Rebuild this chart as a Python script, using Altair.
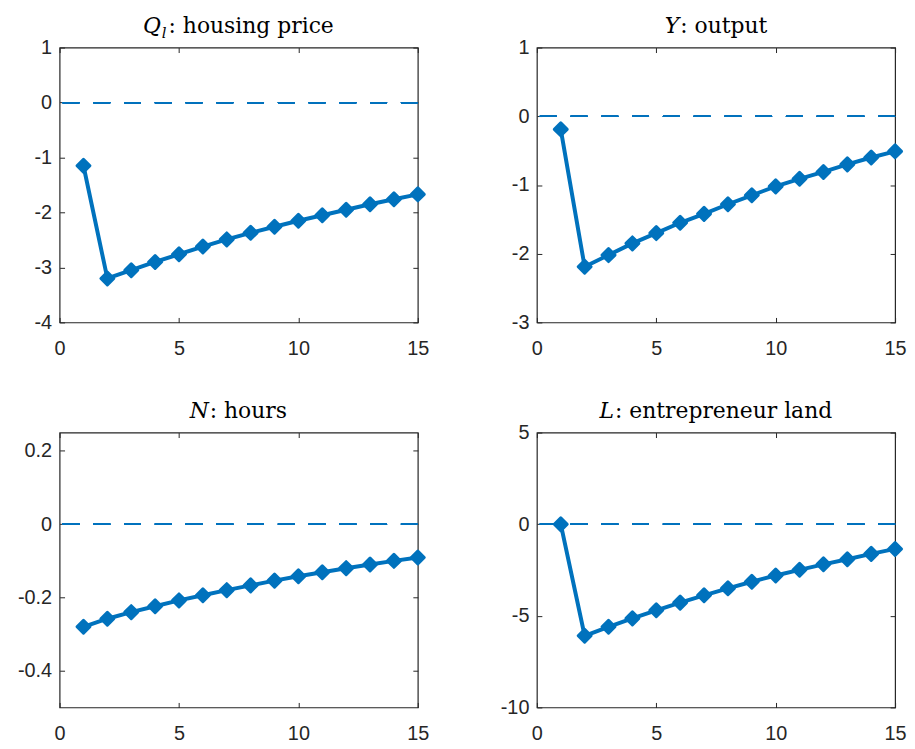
import altair as alt
import pandas as pd

# ---------------- data ----------------
periods = list(range(1, 16))
housing_price = [-1.15, -3.20, -3.05, -2.90, -2.76, -2.62, -2.49, -2.37, -2.26, -2.15, -2.05, -1.95, -1.85, -1.76, -1.67]
output = [-0.19, -2.19, -2.02, -1.85, -1.70, -1.55, -1.42, -1.28, -1.15, -1.02, -0.91, -0.81, -0.70, -0.60, -0.51]
hours = [-0.280, -0.258, -0.240, -0.224, -0.208, -0.194, -0.180, -0.167, -0.154, -0.142, -0.131, -0.120, -0.110, -0.100, -0.091]
land = [0.0, -6.09, -5.60, -5.14, -4.70, -4.28, -3.88, -3.50, -3.14, -2.80, -2.49, -2.19, -1.91, -1.62, -1.35]

x_ticks = [0, 5, 10, 15]
y_domains = [[-4, 1], [-3, 1], [-0.5, 0.25], [-10, 5]]
y_ticks = [[-4, -3, -2, -1, 0, 1], [-3, -2, -1, 0, 1], [-0.4, -0.2, 0, 0.2], [-10, -5, 0, 5]]
title_italic = ["Q", "Y", "N", "L"]
title_sub = ["l", "", "", ""]
title_rest = [": housing price", ": output", ": hours", ": entrepreneur land"]

BLUE = "#0072BD"
AX = "#262626"
W, H = 361, 277
LABEL_EXPR = "datum.value < 0 ? '-' + format(-datum.value, '') : format(datum.value, '')"

# approximate DejaVu Serif advance widths (em) used to centre composite titles
CW = {" ": 0.318, ":": 0.337, "a": 0.596, "c": 0.560, "d": 0.640, "e": 0.592, "g": 0.640,
      "h": 0.644, "i": 0.320, "l": 0.320, "n": 0.644, "o": 0.602, "p": 0.640, "r": 0.478,
      "s": 0.513, "t": 0.402, "u": 0.644}
IW = {"Q": 0.787, "Y": 0.669, "N": 0.838, "L": 0.653, "l": 0.320}


def panel(values, ydom, yt, ital, sub, rest):
    df = pd.DataFrame({"t": periods, "v": values})
    base = alt.Chart(df)
    xs = alt.Scale(domain=[0, 15], nice=False, zero=False)
    ys = alt.Scale(domain=ydom, nice=False, zero=False)
    common = dict(grid=False, domain=False, tickColor=AX, tickSize=5, tickWidth=1,
                  offset=-5, labelFlush=False, labelOverlap=False)
    line = base.mark_line(
        color=BLUE, strokeWidth=4, strokeJoin="round",
        point=alt.OverlayMarkDef(shape="diamond", filled=True, size=170, color=BLUE,
                                 stroke=BLUE, strokeWidth=3, strokeJoin="round", opacity=1),
    ).encode(
        x=alt.X("t:Q", scale=xs, title=None,
                axis=alt.Axis(orient="bottom", values=x_ticks, labelExpr=LABEL_EXPR,
                              labelFont="Liberation Sans", labelFontSize=20, labelColor=AX,
                              labelPadding=16, minExtent=25, maxExtent=25, **common)),
        y=alt.Y("v:Q", scale=ys, title=None,
                axis=alt.Axis(orient="left", values=yt, labelExpr=LABEL_EXPR,
                              labelFont="Liberation Sans", labelFontSize=20, labelColor=AX,
                              labelPadding=8, minExtent=48, maxExtent=48, **common)),
    )
    frame = base.mark_point(opacity=0).encode(
        x=alt.X("t:Q", scale=xs, title=None,
                axis=alt.Axis(orient="top", values=x_ticks, labels=False,
                              minExtent=5, maxExtent=5, **common)),
        y=alt.Y("v:Q", scale=ys, title=None,
                axis=alt.Axis(orient="right", values=yt, labels=False,
                              minExtent=5, maxExtent=5, **common)),
    )
    zero = base.mark_rule(color=BLUE, strokeWidth=1.2, strokeDash=[17, 14]).encode(
        y=alt.YDatum(0, axis=None)
    )
    one = alt.Chart(pd.DataFrame({"k": [0]}))
    font = "DejaVu Serif"
    fs = 22
    sfs = 15
    ital_w = IW[ital] * fs
    sub_w = IW[sub] * sfs + 2 if sub else 0
    rest_w = sum(CW.get(c, 0.6) for c in rest) * fs
    total = ital_w + sub_w + 1 + rest_w
    start = (W - total) / 2
    ital_end = start + ital_w
    rest_start = ital_end + sub_w + 1
    t1 = one.mark_text(font=font, fontSize=fs, fontStyle="italic", align="right",
                       baseline="alphabetic", color="black").encode(
        x=alt.value(ital_end), y=alt.value(-15), text=alt.value(ital))
    layers = [zero, line, frame, t1]
    if sub:
        t2 = one.mark_text(font=font, fontSize=sfs, fontStyle="italic", align="left",
                           baseline="alphabetic", color="black").encode(
            x=alt.value(ital_end + 1), y=alt.value(-10), text=alt.value(sub))
        layers.append(t2)
    t3 = one.mark_text(font=font, fontSize=fs, align="left",
                       baseline="alphabetic", color="black").encode(
        x=alt.value(rest_start), y=alt.value(-15), text=alt.value(rest))
    layers.append(t3)
    return alt.layer(*layers).resolve_axis(x="independent", y="independent").properties(
        width=W, height=H)


series = [housing_price, output, hours, land]
panels = [panel(series[i], y_domains[i], y_ticks[i], title_italic[i], title_sub[i], title_rest[i])
          for i in range(4)]

chart = alt.concat(*panels, columns=2, spacing={"column": 64, "row": 40}).configure_view(
    stroke=AX, strokeWidth=1.2
).properties(padding={"left": 8, "top": 3, "right": 0, "bottom": 0})

chart.save("out.html", embed_options={"renderer": "svg", "actions": False})
